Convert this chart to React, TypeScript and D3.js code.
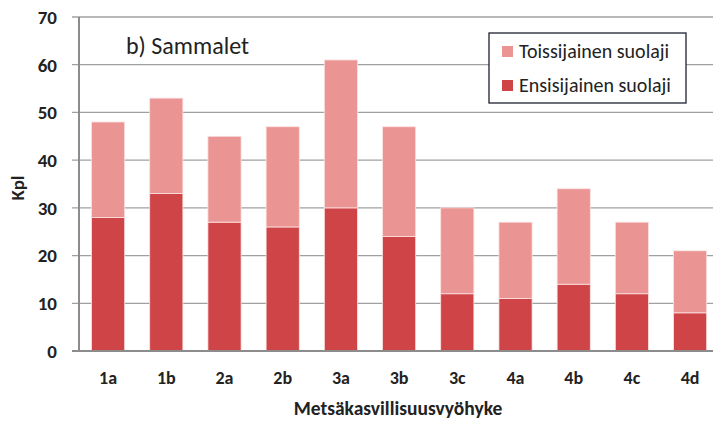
import React, { useEffect, useRef } from 'react'
import * as d3 from 'd3'

const categories = ['1a', '1b', '2a', '2b', '3a', '3b', '3c', '4a', '4b', '4c', '4d']
const primary = [28, 33, 27, 26, 30, 24, 12, 11, 14, 12, 8]
const secondary = [20, 20, 18, 21, 31, 23, 18, 16, 20, 15, 13]
const yTicks = [0, 10, 20, 30, 40, 50, 60, 70]
const seriesNames = ['Ensisijainen suolaji', 'Toissijainen suolaji']
const colors = ['#cf4446', '#ea9593']

const FONT = 'Carlito, Lato, "Liberation Sans", sans-serif'

function App () {
  const ref = useRef<SVGSVGElement>(null)

  useEffect(() => {
    const svg = d3.select(ref.current)
    svg.selectAll('*').remove()

    const left = 79
    const top = 17
    const bottom = 351
    const x = d3.scaleBand().domain(categories).range([left, left + 11 * 58.2]).paddingInner(0.43).paddingOuter(0.215)
    const y = d3.scaleLinear().domain([0, 70]).range([bottom, top])

    // gridlines
    svg.append('g').selectAll('line').data(yTicks.filter(d => d > 0)).enter().append('line')
      .attr('x1', 72).attr('x2', 713)
      .attr('y1', d => y(d)).attr('y2', d => y(d))
      .attr('stroke', '#a0a0a0').attr('stroke-width', 1.3)

    const rows = categories.map((c, i) => ({ cat: c, p: primary[i], s: secondary[i] }))
    const stack = d3.stack<any>().keys(['p', 's'])(rows)

    svg.append('g').selectAll('g').data(stack).enter().append('g')
      .attr('fill', (d, i) => colors[i])
      .selectAll('rect').data(d => d).enter().append('rect')
      .attr('x', d => x(d.data.cat)!)
      .attr('width', x.bandwidth())
      .attr('y', d => y(d[1]))
      .attr('height', d => y(d[0]) - y(d[1]))
      .attr('stroke', '#fbe3e3').attr('stroke-width', 0.8)

    // axes
    svg.append('line').attr('x1', left).attr('x2', left).attr('y1', top).attr('y2', bottom)
      .attr('stroke', '#8c8c8c').attr('stroke-width', 2)
    svg.append('line').attr('x1', 72).attr('x2', 713).attr('y1', bottom).attr('y2', bottom)
      .attr('stroke', '#8c8c8c').attr('stroke-width', 2)

    svg.append('g').selectAll('text').data(yTicks).enter().append('text')
      .attr('x', 57).attr('y', d => y(d)).attr('dy', '0.36em')
      .attr('text-anchor', 'end')
      .style('font', 'bold 19px ' + FONT).attr('fill', '#222')
      .text(d => d)

    svg.append('g').selectAll('text').data(categories).enter().append('text')
      .attr('x', d => x(d)! + x.bandwidth() / 2).attr('y', 384)
      .attr('text-anchor', 'middle')
      .style('font', 'bold 18px ' + FONT).attr('fill', '#222')
      .text(d => d)

    svg.append('text').attr('x', 398).attr('y', 415).attr('text-anchor', 'middle')
      .style('font', 'bold 19.5px ' + FONT).attr('fill', '#222')
      .text('Metsäkasvillisuusvyöhyke')

    svg.append('text').attr('transform', 'translate(24,188) rotate(-90)').attr('text-anchor', 'middle')
      .style('font', 'bold 19px ' + FONT).attr('fill', '#222')
      .text('Kpl')

    svg.append('text').attr('x', 126).attr('y', 54)
      .style('font', '24px ' + FONT).attr('fill', '#222')
      .text('b) Sammalet')

    // legend
    const lg = svg.append('g')
    lg.append('rect').attr('x', 489).attr('y', 33).attr('width', 197).attr('height', 70)
      .attr('fill', '#fff').attr('stroke', '#1e2230').attr('stroke-width', 1.3)
    const items = [1, 0]
    items.forEach((si, i) => {
      lg.append('rect').attr('x', 502).attr('y', 46 + i * 34).attr('width', 11).attr('height', 11)
        .attr('fill', colors[si])
      lg.append('text').attr('x', 519).attr('y', 58 + i * 34)
        .style('font', '20px ' + FONT).attr('fill', '#222')
        .text(seriesNames[si])
    })
  }, [])

  return (
    <svg ref={ref} width={713} height={422} style={{ position: 'absolute', left: 0, top: 0 }} />
  )
}

export default App
